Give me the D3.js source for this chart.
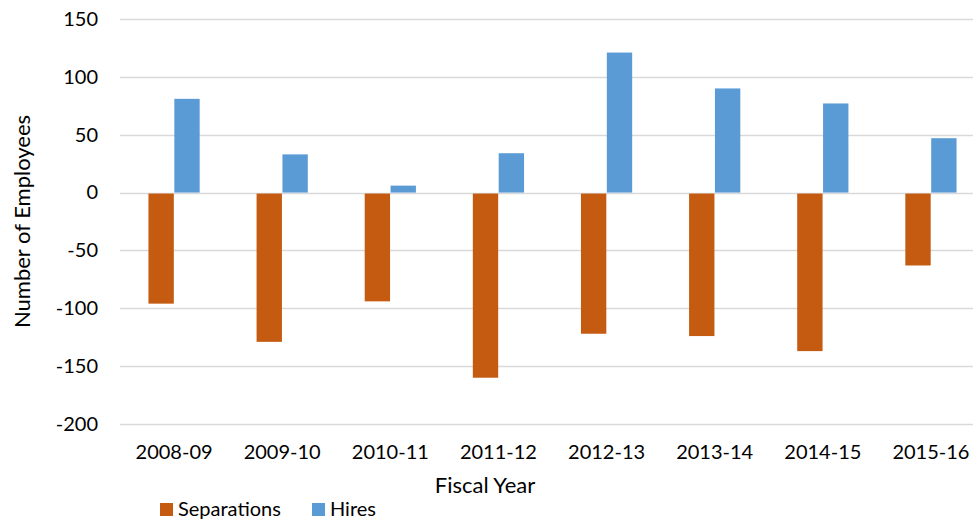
<!DOCTYPE html>
<html>
<head>
<meta charset="utf-8">
<script src="https://cdn.jsdelivr.net/npm/d3@7"></script>
<style>
  body { margin: 0; background: #fff; }
  svg { display: block; font-family: Lato, "Open Sans", sans-serif; }
</style>
</head>
<body>
<div id="chart"></div>
<script>
// data
const years = ["2008-09", "2009-10", "2010-11", "2011-12", "2012-13", "2013-14", "2014-15", "2015-16"];
const separations = [-96, -129, -94, -160, -122, -124, -137, -63];
const hires = [81, 33, 6, 34, 121, 90, 77, 47];
const seriesNames = ["Separations", "Hires"];
const yTicks = [150, 100, 50, 0, -50, -100, -150, -200];

const colours = { Separations: "#C55A11", Hires: "#5B9BD5" };

const width = 973;
const height = 523;
const margin = { top: 19, right: -12, bottom: 99, left: 120 };

const svg = d3.select("#chart")
  .append("svg")
  .attr("width", width)
  .attr("height", height);

const x = d3.scaleBand()
  .domain(years)
  .range([margin.left, width - margin.right]);

const x1 = d3.scaleBand()
  .domain(seriesNames)
  .range([0, x.bandwidth()])
  .paddingInner(0.02)
  .paddingOuter(1.1);

const y = d3.scaleLinear()
  .domain([-200, 150])
  .range([height - margin.bottom, margin.top]);

// gridlines
svg.append("g")
  .selectAll("line")
  .data(yTicks)
  .join("line")
  .attr("x1", margin.left)
  .attr("x2", width - margin.right)
  .attr("y1", (d) => Math.round(y(d)) + 0.5)
  .attr("y2", (d) => Math.round(y(d)) + 0.5)
  .attr("stroke", "#d9d9d9")
  .attr("stroke-width", 1.5);

// y axis labels (plain hyphen for negatives, like the original)
const yAxis = d3.axisLeft(y)
  .tickValues(yTicks)
  .tickFormat((d) => String(d))
  .tickSize(0)
  .tickPadding(0);
svg.append("g")
  .attr("transform", `translate(98,0)`)
  .call(yAxis)
  .call((g) => g.select(".domain").remove())
  .call((g) => g.selectAll("text")
    .attr("font-size", 20)
    .attr("fill", "#000")
    .attr("font-family", "Lato, sans-serif"));

// bars
const rows = years.map((yr, i) => ({ year: yr, Separations: separations[i], Hires: hires[i] }));

svg.append("g")
  .selectAll("g")
  .data(rows)
  .join("g")
  .attr("transform", (d) => `translate(${x(d.year)},0)`)
  .selectAll("rect")
  .data((d) => seriesNames.map((k) => ({ key: k, value: d[k] })))
  .join("rect")
  .attr("x", (d) => x1(d.key))
  .attr("width", x1.bandwidth())
  .attr("y", (d) => (d.value >= 0 ? y(d.value) : y(0) + 1))
  .attr("height", (d) => Math.abs(y(d.value) - y(0)) - (d.value < 0 ? 1 : 0))
  .attr("fill", (d) => colours[d.key]);

// x axis labels
const xAxis = d3.axisBottom(x).tickSize(0).tickPadding(0);
svg.append("g")
  .attr("transform", `translate(0,${height - margin.bottom + 21})`)
  .call(xAxis)
  .call((g) => g.select(".domain").remove())
  .call((g) => g.selectAll("text")
    .attr("font-size", 20)
    .attr("fill", "#000")
    .attr("font-family", "Lato, sans-serif"));

// axis titles
svg.append("text")
  .attr("x", 485)
  .attr("y", 493)
  .attr("text-anchor", "middle")
  .attr("font-size", 22)
  .text("Fiscal Year");

svg.append("text")
  .attr("transform", `translate(30,${(y(150) + y(-200)) / 2}) rotate(-90)`)
  .attr("text-anchor", "middle")
  .attr("font-size", 22)
  .text("Number of Employees");

// legend
const legendX = [160, 312];
const legend = svg.append("g")
  .selectAll("g")
  .data(seriesNames)
  .join("g")
  .attr("transform", (d, i) => `translate(${legendX[i]},503)`);

legend.append("rect")
  .attr("width", 13)
  .attr("height", 13)
  .attr("fill", (d) => colours[d]);

legend.append("text")
  .attr("x", 18)
  .attr("y", 13)
  .attr("font-size", 20)
  .text((d) => d);
</script>
</body>
</html>
